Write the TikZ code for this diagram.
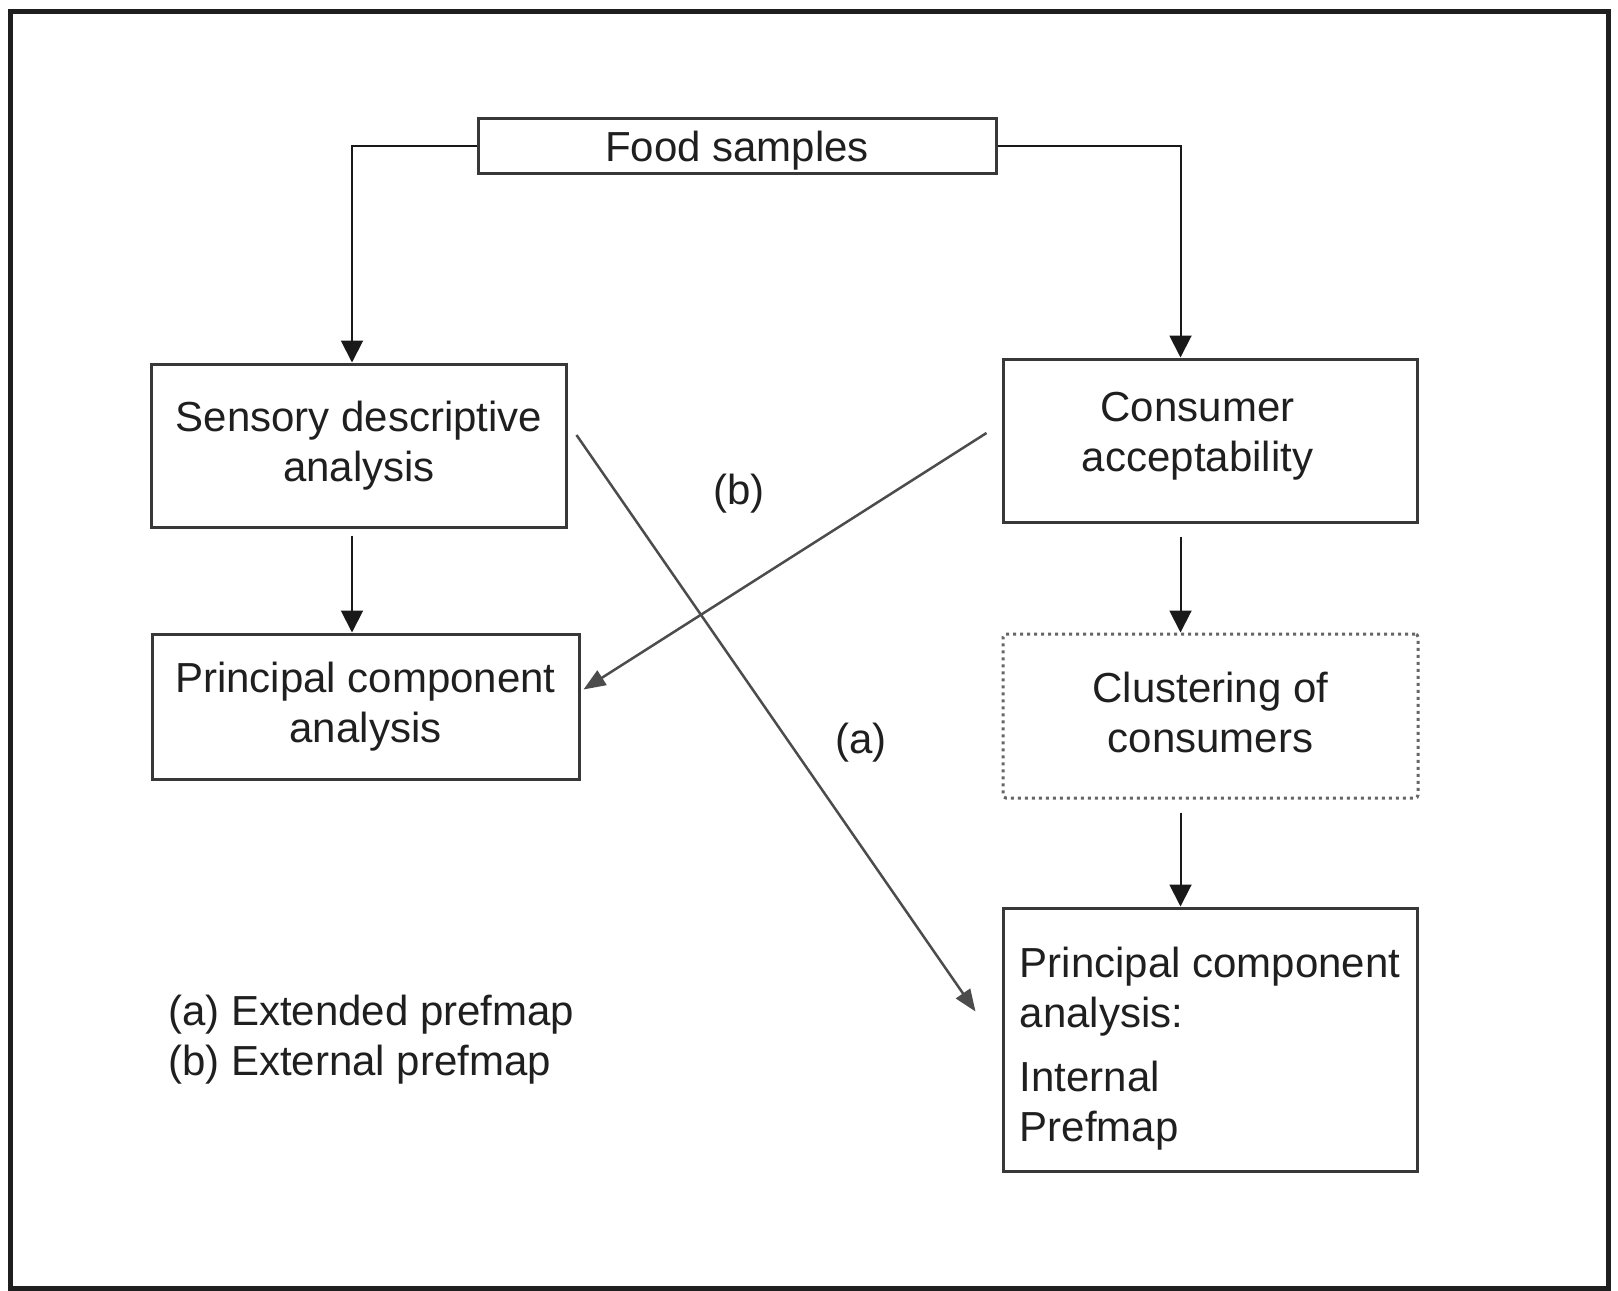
\documentclass[tikz,border=0pt]{standalone}
\usepackage{fontspec}
\setmainfont{Liberation Sans}
\usetikzlibrary{arrows.meta,calc}
\begin{document}
\begin{tikzpicture}[x=1pt,y=-1pt,
  every node/.style={font=\fontsize{42}{50}\selectfont, text=black!88},
  box/.style={draw=black!78, line width=3pt, inner sep=0pt, align=center},
  clusterbox/.style={draw=black!60, line width=3pt, dash pattern=on 3pt off 4pt, rounded corners=3pt, inner sep=0pt, align=center},
  link/.style={draw=black!90, line width=2pt, -{Triangle[length=22pt,width=22pt]}},
  cross/.style={draw=black!70, line width=2.5pt, -{Triangle[length=22pt,width=17pt]}},
  tag/.style={inner sep=0pt}
]
\useasboundingbox (0,0) rectangle (1618,1291);
% outer frame
\draw[line width=5pt, draw=black!88] (10,11) rectangle (1608,1288);

% boxes
\node[box, minimum width=518pt, minimum height=55pt, text height=40.6pt] (food) at (737,145.5) {Food samples};
\node[box, minimum width=415pt, minimum height=163pt] (sens) at (359,445.5) {Sensory descriptive\\analysis};
\node[box, minimum width=427pt, minimum height=145pt] (pcaL) at (365.5,706.5) {Principal component\\analysis};
\node[box, minimum width=414pt, minimum height=163pt, text depth=16.8pt] (cons) at (1210,440.5) {Consumer\hspace*{25pt}\\acceptability\hspace*{25pt}};
\node[clusterbox, minimum width=415pt, minimum height=164pt, text depth=8pt] (clus) at (1210.5,716) {Clustering of\\consumers};
\node[box, minimum width=414pt, minimum height=263pt, align=left] (pcaR) at (1210,1039.5) {\rule{0pt}{48pt}Principal component\\analysis:\\[14pt]Internal\\Prefmap};

% vertical flow
\draw[link] (food.west) -| ([xshift=-7pt]sens.north);
\draw[link] (food.east) -| ([xshift=-29.5pt]cons.north);
\draw[link, shorten <=7pt] ([xshift=-7pt]sens.south) -- ([xshift=-7pt]sens.south |- pcaL.north);
\draw[link, shorten <=13pt] ([xshift=-29.5pt]cons.south) -- ([xshift=-29.5pt]cons.south |- clus.north);
\draw[link, shorten <=13pt] ([xshift=-30pt]clus.south) -- ([xshift=-30pt]clus.south |- pcaR.north);

% crossing prefmap links
\coordinate (bs) at ($(cons.west)+(-15,-7.5)$);
\coordinate (be) at ($(pcaL.east)+(3,-17)$);
\coordinate (as) at ($(sens.east)+(8.5,-10.5)$);
\coordinate (ae) at ($(pcaR.west)+(-26,-28)$);
\draw[cross] (bs) -- (be);
\draw[cross] (as) -- (ae);

% labels
\node[tag] (lb) at (739,494) {(b)};
\node[tag] (la) at (861,743) {(a)};
\node[tag, anchor=west, align=left] (legend) at (168,1040) {(a) Extended prefmap\\(b) External prefmap};
\end{tikzpicture}
\end{document}
